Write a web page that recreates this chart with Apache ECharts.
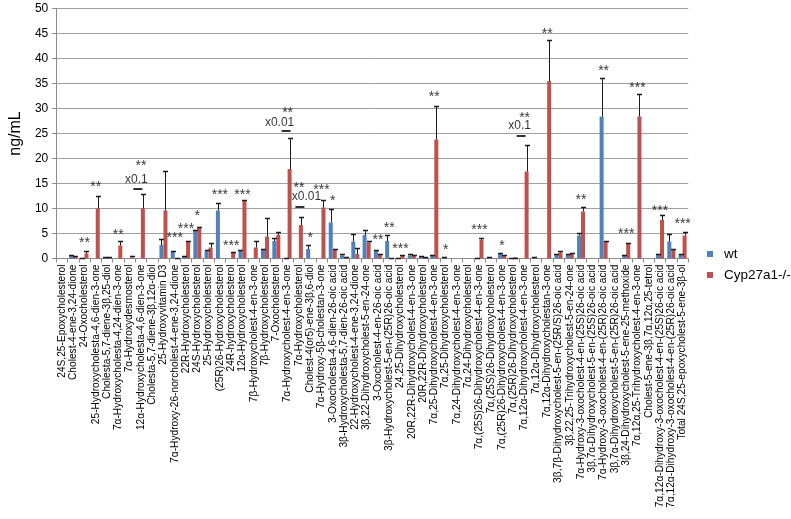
<!DOCTYPE html>
<html><head><meta charset="utf-8">
<script src="https://cdn.jsdelivr.net/npm/echarts@6/dist/echarts.min.js"></script>
<style>html,body{margin:0;padding:0;background:#fff}#c{width:791px;height:519px}</style>
</head><body><div id="c"></div>
<script>
const categories = [
"24S,25-Epoxycholesterol","Cholest-4-ene-3,24-dione","24-Oxocholesterol","25-Hydroxycholesta-4,6-dien-3-one",
"Cholesta-5,7-diene-3β,25-diol","7α-Hydroxycholesta-4,24-dien-3-one","7α-Hydroxydesmosterol","12α-Hydroxycholesta-4,6-dien-3-one",
"Cholesta-5,7-diene-3β,12α-diol","25-Hydroxyvitamin D3","7α-Hydroxy-26-norcholest-4-ene-3,24-dione","22R-Hydroxycholesterol",
"24S-Hydroxycholesterol","25-Hydroxycholesterol","(25R)26-Hydroxycholesterol","24R-hydroxycholesterol",
"12α-Hydroxycholesterol","7β-Hydroxycholest-4-en-3-one","7β-Hydroxycholesterol","7-Oxocholesterol",
"7α-Hydroxycholest-4-en-3-one","7α-Hydroxycholesterol","Cholest-4(or5)-ene-3β,6-diol","7α-Hydroxy-5β-cholestan-3-one",
"3-Oxocholesta-4,6-dien-26-oic acid","3β-Hydroxycholesta-5,7-dien-26-oic acid","22-Hydroxycholest-4-ene-3,24-dione","3β,22-Dihydroxycholest-5-en-24-one",
"3-Oxocholest-4-en-26-oic acid","3β-Hydroxycholest-5-en-(25R)26-oic acid","24,25-Dihydroxycholesterol","20R,22R-Dihydroxycholest-4-en-3-one",
"20R,22R-Dihydroxycholesterol","7α,25-Dihydroxycholest-4-en-3-one","7α,25-Dihydroxycholesterol","7α,24-Dihydroxycholest-4-en-3-one",
"7α,24-Dihydroxycholesterol","7α,(25S)26-Dihydroxycholest-4-en-3-one","7α,(25S)26-Dihydroxycholesterol","7α,(25R)26-Dihydroxycholest-4-en-3-one",
"7α,(25R)26-Dihydroxycholesterol","7α,12α-Dihydroxycholest-4-en-3-one","7α,12α-Dihydroxycholesterol","7α,12α-Dihydroxycholestan-3-one",
"3β,7β-Dihydroxycholest-5-en-(25R/S)26-oic acid","3β,22,25-Trihydroxycholest-5-en-24-one","7α-Hydroxy-3-oxocholest-4-en-(25S)26-oic acid","3β,7α-Dihydroxycholest-5-en-(25S)26-oic acid",
"7α-Hydroxy-3-oxocholest-4-en-(25R)26-oic acid","3β,7α-Dihydroxycholest-5-en-(25R)26-oic acid","3β,24-Dihydroxycholest-5-ene-25-methoxide","7α,12α,25-Trihydroxycholest-4-en-3-one",
"Cholest-5-ene-3β,7α,12α,25-tetrol","7α,12α-Dihydroxy-3-oxocholest-4-en-(25S)26-oic acid","7α,12α-Dihydroxy-3-oxocholest-4-en-(25R)26-oic acid","Total 24S,25-epoxycholest-5-ene-3β-ol"
];
const wt = [null,0.5,0.1,null,0.2,null,null,null,null,2.7,1.3,0.4,5.5,1.5,9.6,null,1.7,null,1.9,3.5,0.1,null,1.9,null,7.2,0.6,3.4,4.7,1.5,3.5,0.1,0.6,0.4,0.6,0.2,null,null,0.1,0.2,0.9,0.1,null,0.2,null,0.8,0.9,4.6,null,28.4,null,0.5,null,null,0.7,3.4,0.9];
const wtSD = [null,0.2,0,null,0.1,null,null,null,null,1.2,0.2,0.1,0.3,0.2,1.6,null,0.1,null,0.1,0.7,0,null,0.9,null,2.8,0.3,1.5,1.1,0.2,1.3,0,0.4,0.2,0.2,0.05,null,null,0,0.05,0.2,0,null,0.05,null,0.2,0.1,0.6,null,7.8,null,0.2,null,null,0.3,1.5,0.1];
const ko = [null,0.4,1.0,10.0,0.2,2.6,0.2,10.0,null,9.6,0.1,3.3,6.1,2.2,null,1.3,11.6,2.2,4.4,4.7,17.9,6.7,null,10.2,1.8,0.3,0.9,3.2,0.7,0.1,0.5,0.5,0.3,23.8,null,null,null,3.7,null,0.6,0.2,17.4,null,35.5,1.2,1.0,9.4,null,3.5,null,2.9,28.4,null,7.7,1.9,4.6];
const koSD = [null,0.2,0.5,2.6,0.1,1.0,0.4,3.0,null,8.0,0,0.3,0.2,0.9,null,0.1,0.2,1.4,3.8,0.7,6.3,1.7,null,1.5,0.1,0.1,1.3,0.4,0.3,0,0.3,0.2,0.1,6.7,null,null,null,0.5,null,0.1,0,5.3,null,8.3,0.3,0.2,1.0,null,0.1,null,0.3,4.5,null,1.1,0.1,0.7];
// significance marks: [category index, y value, text]
const stars = [[2,3.7,'**'],[3,14.9,'**'],[5,5.3,'**'],[7,19.1,'**'],[10,4.7,'***'],[11,6.5,'***'],[12,9.1,'*'],[14,13.3,'***'],[15,3.1,'***'],[16,13.3,'***'],[20,29.7,'**'],[21,14.7,'**'],[22,4.7,'*'],[23,14.3,'***'],[24,12.1,'*'],[28,4.3,'**'],[29,6.7,'**'],[30,2.5,'***'],[33,32.9,'**'],[34,2.3,'*'],[37,6.3,'***'],[39,3.1,'*'],[41,28.7,'**'],[43,45.5,'**'],[46,12.3,'**'],[48,38.1,'**'],[50,5.5,'***'],[51,34.7,'***'],[53,10.1,'***'],[55,7.5,'***']];
// scale notes: [category index, y value, text]
const scaleNotes = [[7,15.7,'x0.1'],[20,27.1,'x0.01'],[21,12.3,'x0.01'],[41,26.5,'x0.1']];
const scaleMarks = [[7,13.9],[20,25.5],[21,10.3],[41,24.5]];
const yMin = 0, yMax = 50, yStep = 5;

const noteDx = [-4.5,-8,7.5,-5];
const markDx = [-3,-1.5,1,-3.5];

function errSeries(vals, sds, dx){
  const data = [];
  vals.forEach((v,i)=>{ if(v!=null) data.push([i, v, v + (sds[i]||0)]); });
  return {
    type:'custom', silent:true, z:5,
    data: data,
    renderItem:(params, api)=>{
      const i = api.value(0);
      const p0 = api.coord([i, api.value(1)]);
      const p1 = api.coord([i, api.value(2)]);
      const x = Math.round(p0[0] + dx) + 0.5;
      const yt = Math.round(p1[1]) + 0.5;
      return {type:'group', children:[
        {type:'line', shape:{x1:x,y1:p0[1],x2:x,y2:yt}, style:{stroke:'#1a1a1a',lineWidth:1}},
        {type:'line', shape:{x1:x-2.5,y1:yt,x2:x+2.5,y2:yt}, style:{stroke:'#1a1a1a',lineWidth:1.5}}
      ]};
    }
  };
}

const chart = echarts.init(document.getElementById('c'), null, {renderer:'canvas'});
chart.setOption({
  animation:false,
  backgroundColor:'#fff',
  textStyle:{fontFamily:'Liberation Sans, Arial, sans-serif'},
  grid:{left:44.25, right:102.75, top:8.5, bottom:260.5, containLabel:false},
  legend:{
    data:['wt','Cyp27a1-/-'], orient:'vertical', left:702, top:242,
    itemWidth:6, itemHeight:6, itemGap:7, icon:'rect',
    textStyle:{fontSize:13.5, color:'#000', padding:[0,0,0,6], fontFamily:'Liberation Sans, Arial, sans-serif'}
  },
  xAxis:{
    type:'category', data:categories,
    axisLine:{lineStyle:{color:'#8c8c8c'}},
    axisTick:{show:true, length:4, alignWithLabel:false, interval:0, lineStyle:{color:'#8c8c8c'}},
    axisLabel:{rotate:90, interval:0, fontSize:10.2, color:'#000', margin:6, fontFamily:'Liberation Sans, Arial, sans-serif'},
    splitLine:{show:false}
  },
  yAxis:{
    type:'value', min:yMin, max:yMax, interval:yStep,
    name:'ng/mL', nameLocation:'middle', nameGap:27,
    nameTextStyle:{fontSize:16, color:'#000'},
    axisLine:{show:true, lineStyle:{color:'#8c8c8c'}},
    axisTick:{show:true, length:4, lineStyle:{color:'#8c8c8c'}},
    axisLabel:{fontSize:12, color:'#000', margin:8},
    splitLine:{lineStyle:{color:'#a0a0a0', width:1}}
  },
  series:[
    {name:'wt', type:'bar', data:wt, barWidth:4, barGap:'0%', itemStyle:{color:'#4f81bd'}},
    {name:'Cyp27a1-/-', type:'bar', data:ko, barWidth:4, barGap:'0%', itemStyle:{color:'#c0504d'}},
    errSeries(wt, wtSD, -2),
    errSeries(ko, koSD, 2),
    {type:'scatter', silent:true, symbolSize:0, z:6,
     data: stars.map(s=>({value:[s[0], s[1]], label:{formatter:s[2]}})),
     label:{show:true, position:'inside', fontSize:14, color:'#000', offset:[0,3]}},
    {type:'scatter', silent:true, symbolSize:0, z:6,
     data: scaleNotes.map((s,k)=>({value:[s[0], s[1]], label:{formatter:s[2], offset:[noteDx[k],0]}})),
     label:{show:true, position:'inside', fontSize:12, color:'#000'}},
    {type:'scatter', silent:true, symbol:'rect', symbolSize:[9,2], z:6,
     data: scaleMarks.map((s,k)=>({value:[s[0], s[1]], symbolOffset:[markDx[k],0]})),
     itemStyle:{color:'#000'}}
  ]
});
</script></body></html>
